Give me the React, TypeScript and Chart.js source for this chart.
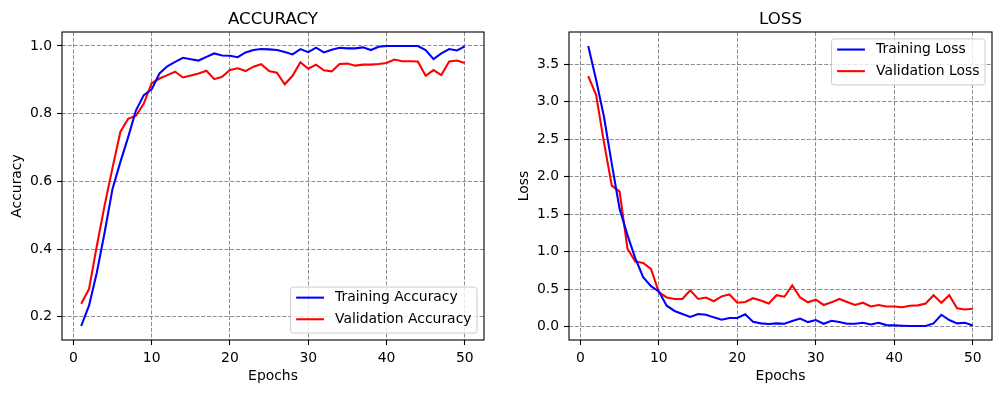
import { useEffect, useRef } from "react";
import { Chart, registerables } from "chart.js";

Chart.register(...registerables);

const FONT = "'DejaVu Sans', 'Liberation Sans', sans-serif";
const TICK_SIZE = 13.9;
const TITLE_SIZE = 16.67;

// ---- training history ----
const epochs = [
  1, 2, 3, 4, 5, 6, 7, 8, 9, 10, 11, 12, 13, 14, 15, 16, 17, 18, 19, 20, 21, 22, 23, 24, 25,
  26, 27, 28, 29, 30, 31, 32, 33, 34, 35, 36, 37, 38, 39, 40, 41, 42, 43, 44, 45, 46, 47, 48, 49, 50,
];

const trainAcc = [
  0.173, 0.233, 0.331, 0.45, 0.578, 0.657, 0.731, 0.81, 0.855, 0.872,
  0.919, 0.94, 0.953, 0.965, 0.961, 0.957, 0.968, 0.978, 0.972, 0.971,
  0.967, 0.981, 0.988, 0.991, 0.99, 0.988, 0.982, 0.975, 0.991, 0.982,
  0.995, 0.981, 0.989, 0.995, 0.993, 0.993, 0.996, 0.988, 0.998, 1.0,
  1.0, 1.0, 1.0, 1.0, 0.988, 0.961, 0.978, 0.991, 0.987, 0.999,
];

const valAcc = [
  0.239, 0.282, 0.41, 0.53, 0.64, 0.746, 0.785, 0.794, 0.83, 0.89,
  0.904, 0.914, 0.924, 0.907, 0.913, 0.919, 0.927, 0.902, 0.909, 0.929,
  0.934, 0.926, 0.939, 0.946, 0.926, 0.921, 0.887, 0.912, 0.952, 0.933,
  0.945, 0.928, 0.925, 0.947, 0.948, 0.942, 0.945, 0.945, 0.947, 0.95,
  0.96, 0.955, 0.955, 0.954, 0.912, 0.929, 0.914, 0.954, 0.957, 0.95,
];

const trainLoss = [
  3.74, 3.29, 2.8, 2.17, 1.57, 1.22, 0.91, 0.66, 0.54, 0.47,
  0.28, 0.21, 0.17, 0.13, 0.17, 0.16, 0.125, 0.094, 0.116, 0.116,
  0.165, 0.067, 0.045, 0.036, 0.045, 0.04, 0.076, 0.11, 0.062, 0.09,
  0.04, 0.08, 0.062, 0.04, 0.04, 0.053, 0.03, 0.053, 0.022, 0.018,
  0.013, 0.01, 0.01, 0.01, 0.045, 0.16, 0.09, 0.045, 0.053, 0.018,
];

const valLoss = [
  3.34, 3.09, 2.46, 1.88, 1.8, 1.04, 0.87, 0.85, 0.77, 0.46,
  0.39, 0.37, 0.37, 0.485, 0.37, 0.39, 0.34, 0.405, 0.43, 0.32,
  0.33, 0.38, 0.35, 0.31, 0.42, 0.4, 0.55, 0.39, 0.325, 0.36,
  0.29, 0.325, 0.37, 0.33, 0.29, 0.32, 0.27, 0.29, 0.27, 0.27,
  0.26, 0.28, 0.285, 0.31, 0.42, 0.32, 0.42, 0.245, 0.23, 0.24,
];

const epochTicks = [0, 10, 20, 30, 40, 50];
const accTicks = [0.2, 0.4, 0.6, 0.8, 1.0];
const lossTicks = [0.0, 0.5, 1.0, 1.5, 2.0, 2.5, 3.0, 3.5];

type Series = { label: string; values: number[]; color: string };
type Panel = {
  title: string;
  yLabel: string;
  series: Series[];
  yTicks: number[];
  legendAt: "lower right" | "upper right";
  left: number;
  width: number;
  yAxisWidth: number;
  padRight: number;
};

// autoscale with a 5% margin on each side, like the usual plotting default
function paddedRange(values: number[]): [number, number] {
  const lo = Math.min(...values);
  const hi = Math.max(...values);
  const m = (hi - lo) * 0.05;
  return [lo - m, hi + m];
}

const panels: Panel[] = [
  {
    title: "ACCURACY",
    yLabel: "Accuracy",
    series: [
      { label: "Training Accuracy", values: trainAcc, color: "#0000ff" },
      { label: "Validation Accuracy", values: valAcc, color: "#ff0000" },
    ],
    yTicks: accTicks,
    legendAt: "lower right",
    left: 0,
    width: 520,
    yAxisWidth: 62,
    padRight: 36,
  },
  {
    title: "LOSS",
    yLabel: "Loss",
    series: [
      { label: "Training Loss", values: trainLoss, color: "#0000ff" },
      { label: "Validation Loss", values: valLoss, color: "#ff0000" },
    ],
    yTicks: lossTicks,
    legendAt: "upper right",
    left: 505,
    width: 496,
    yAxisWidth: 64,
    padRight: 9,
  },
];

const HEIGHT = 393;

function makeDecor(panel: Panel) {
  return {
    id: "panelDecor",
    afterDatasetsDraw(chart: Chart) {
      const { ctx, chartArea } = chart;
      const { left, right, top, bottom } = chartArea;
      ctx.save();
      // frame around the plotting area
      ctx.strokeStyle = "#000";
      ctx.lineWidth = 1.1;
      ctx.strokeRect(left, top, right - left, bottom - top);

      // title
      ctx.fillStyle = "#000";
      ctx.font = `${TITLE_SIZE}px ${FONT}`;
      ctx.textAlign = "center";
      ctx.textBaseline = "alphabetic";
      ctx.fillText(panel.title, (left + right) / 2, top - 8.3);

      // x axis label
      ctx.font = `${TICK_SIZE}px ${FONT}`;
      ctx.textBaseline = "middle";
      ctx.fillText("Epochs", (left + right) / 2, 376);

      // y axis label
      ctx.save();
      ctx.translate(left - 45, (top + bottom) / 2);
      ctx.rotate(-Math.PI / 2);
      ctx.fillText(panel.yLabel, 0, 0);
      ctx.restore();

      // legend
      const fs = TICK_SIZE;
      const pad = 0.4 * fs;
      const handleLen = 2.0 * fs;
      const handleGap = 0.8 * fs;
      const rowGap = 21.6;
      const axPad = 0.5 * fs;
      ctx.font = `${fs}px ${FONT}`;
      const textW = Math.max(...panel.series.map((s) => ctx.measureText(s.label).width));
      const boxW = pad * 2 + handleLen + handleGap + textW;
      const boxH = 46;
      const bx = right - axPad - boxW;
      const by = panel.legendAt === "lower right" ? bottom - axPad - boxH : top + axPad;
      const r = 2.8;
      ctx.beginPath();
      ctx.moveTo(bx + r, by);
      ctx.lineTo(bx + boxW - r, by);
      ctx.quadraticCurveTo(bx + boxW, by, bx + boxW, by + r);
      ctx.lineTo(bx + boxW, by + boxH - r);
      ctx.quadraticCurveTo(bx + boxW, by + boxH, bx + boxW - r, by + boxH);
      ctx.lineTo(bx + r, by + boxH);
      ctx.quadraticCurveTo(bx, by + boxH, bx, by + boxH - r);
      ctx.lineTo(bx, by + r);
      ctx.quadraticCurveTo(bx, by, bx + r, by);
      ctx.closePath();
      ctx.fillStyle = "rgba(255,255,255,0.8)";
      ctx.fill();
      ctx.strokeStyle = "#cccccc";
      ctx.lineWidth = 1;
      ctx.stroke();

      panel.series.forEach((s, i) => {
        const cy = by + 10.6 + i * rowGap;
        ctx.strokeStyle = s.color;
        ctx.lineWidth = 2.08;
        ctx.beginPath();
        ctx.moveTo(bx + pad, cy);
        ctx.lineTo(bx + pad + handleLen, cy);
        ctx.stroke();
        ctx.fillStyle = "#000";
        ctx.textAlign = "left";
        ctx.textBaseline = "middle";
        ctx.fillText(s.label, bx + pad + handleLen + handleGap, cy);
      });
      ctx.restore();
    },
  };
}

function PanelChart({ panel }: { panel: Panel }) {
  const ref = useRef<HTMLCanvasElement | null>(null);

  useEffect(() => {
    if (!ref.current) return;
    const [yMin, yMax] = paddedRange(panel.series.flatMap((s) => s.values));
    const [xMin, xMax] = paddedRange(epochs);
    const gridStyle = {
      color: "#808080",
      lineWidth: 0.9,
      drawTicks: true,
      tickLength: 5,
      tickColor: "#000",
      tickWidth: 1.1,
      tickBorderDash: [],
    };
    // in Chart.js 4 the grid-line dash pattern is read from the border options
    const borderStyle = { display: false, dash: [4, 1.8] };
    const tickFont = { family: FONT, size: TICK_SIZE };
    const chart = new Chart(ref.current, {
      type: "line",
      data: {
        datasets: panel.series.map((s) => ({
          label: s.label,
          data: epochs.map((e, i) => ({ x: e, y: s.values[i] })),
          borderColor: s.color,
          backgroundColor: s.color,
          borderWidth: 2.08,
          pointRadius: 0,
          tension: 0,
          fill: false,
        })),
      },
      options: {
        animation: false,
        responsive: false,
        devicePixelRatio: 1,
        layout: { padding: { left: 0, right: panel.padRight, top: 32, bottom: 0 } },
        scales: {
          x: {
            type: "linear",
            min: xMin,
            max: xMax,
            afterBuildTicks: (s: any) => {
              s.ticks = epochTicks.map((v) => ({ value: v }));
            },
            afterFit: (s: any) => {
              s.height = HEIGHT - 32 - 308;
            },
            grid: gridStyle,
            border: borderStyle,
            ticks: {
              color: "#000",
              font: tickFont,
              padding: 5,
              maxRotation: 0,
              autoSkip: false,
              callback: (v: any) => String(v),
            },
          },
          y: {
            type: "linear",
            min: yMin,
            max: yMax,
            afterBuildTicks: (s: any) => {
              s.ticks = panel.yTicks.map((v) => ({ value: v }));
            },
            afterFit: (s: any) => {
              s.width = panel.yAxisWidth;
            },
            grid: gridStyle,
            border: borderStyle,
            ticks: {
              color: "#000",
              font: tickFont,
              padding: 5,
              autoSkip: false,
              callback: (v: any) => Number(v).toFixed(1),
            },
          },
        },
        plugins: {
          legend: { display: false },
          tooltip: { enabled: false },
          title: { display: false },
        },
      },
      plugins: [makeDecor(panel)],
    } as any);
    return () => chart.destroy();
  }, [panel]);

  return (
    <canvas
      ref={ref}
      width={panel.width}
      height={HEIGHT}
      style={{ position: "absolute", left: panel.left, top: 0, width: panel.width, height: HEIGHT }}
    />
  );
}

export default function App() {
  return (
    <div
      style={{
        position: "absolute",
        left: 0,
        top: 0,
        width: 1001,
        height: HEIGHT,
        background: "#fff",
        overflow: "hidden",
      }}
    >
      {panels.map((p) => (
        <PanelChart key={p.title} panel={p} />
      ))}
    </div>
  );
}
